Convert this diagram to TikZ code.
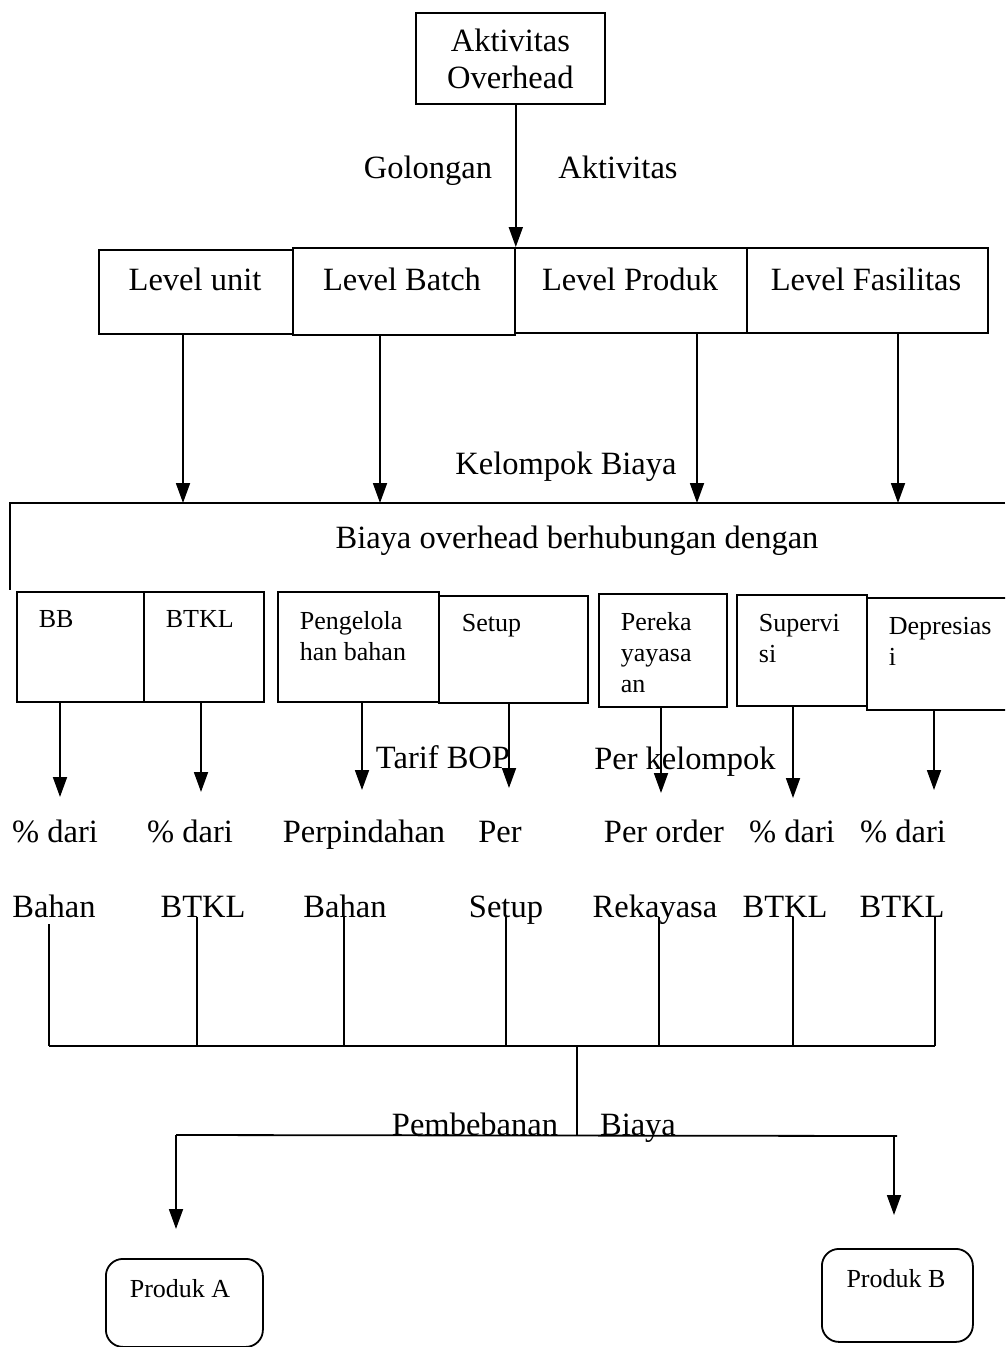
\documentclass[tikz,border=0pt]{standalone}
\usepackage{fontspec}
\setmainfont{Liberation Serif}
\usetikzlibrary{arrows.meta}
\begin{document}
\begin{tikzpicture}[x=1pt,y=-1pt,
  line width=1.8pt,
  box/.style={draw, line width=1.8pt, inner sep=0pt, anchor=north west},
  bigtxt/.style={font=\fontsize{32.5}{37}\selectfont, inner sep=0pt, anchor=base},
  smalltxt/.style={font=\fontsize{26}{31}\selectfont, inner sep=0pt, anchor=north west, align=left},
  prod/.style={draw, line width=1.8pt, rounded corners=17pt, inner sep=0pt, anchor=north west},
  arr/.style={-{Triangle[length=20pt,width=14pt]}},
]
\useasboundingbox (0,0) rectangle (1005,1347);
\clip (0,0) rectangle (1005,1347);
\fill[white] (0,0) rectangle (1005,1347);

% top box
\node[box, minimum width=189pt, minimum height=91pt, align=center,
      font=\fontsize{32.5}{37}\selectfont] (ovh) at (415,12) {Aktivitas\\Overhead};

% activity levels
\node[box, minimum width=194pt, minimum height=84pt] (lu) at (98,249) {};
\node[box, minimum width=222pt, minimum height=87pt] (lb) at (292,247) {};
\node[box, minimum width=232pt, minimum height=85pt] (lp) at (514,247) {};
\node[box, minimum width=241pt, minimum height=85pt] (lf) at (746,247) {};
\node[bigtxt] (lut) at (195,290) {Level unit};
\node[bigtxt] (lbt) at (402,290) {Level Batch};
\node[bigtxt] (lpt) at (630,290) {Level Produk};
\node[bigtxt] (lft) at (866,290) {Level Fasilitas};

\draw[arr] (ovh.south -| lb.north east) -- (lb.north east);
\node[bigtxt] (gol) at (428,178) {Golongan};
\node[bigtxt] (akt) at (618,178) {Aktivitas};

% cost pool frame
\coordinate (bigNE) at (1005,503);
\coordinate (bigNW) at (10,503);
\coordinate (bigSW) at (10,590);
\draw (bigNE) -- (bigNW) -- (bigSW);
\node[bigtxt] (bohd) at (577,548) {Biaya overhead berhubungan dengan};

\coordinate (k1) at (183,503);
\coordinate (k2) at (380,503);
\coordinate (k3) at (697,503);
\coordinate (k4) at (898,503);
\draw[arr] (k1 |- lu.south) -- (k1);
\draw[arr] (k2 |- lb.south) -- (k2);
\draw[arr] (k3 |- lp.south) -- (k3);
\draw[arr] (k4 |- lf.south) -- (k4);
\node[bigtxt] (kel) at (566,474) {Kelompok Biaya};

% cost items
\node[box, minimum width=127pt, minimum height=110pt] (bb) at (16,591) {};
\node[box, minimum width=120pt, minimum height=110pt] (btkl) at (143,591) {};
\node[box, minimum width=161pt, minimum height=110pt] (peng) at (277,591) {};
\node[box, minimum width=149pt, minimum height=107pt] (setup) at (438,595) {};
\node[box, minimum width=128pt, minimum height=113pt] (rek) at (598,593) {};
\node[box, minimum width=130pt, minimum height=111pt] (sup) at (736,594) {};
\node[box, minimum width=150pt, minimum height=112pt] (dep) at (866,597) {};

\node[smalltxt] (bbt) at (38,610) {BB};
\node[smalltxt] (btklt) at (165,610) {BTKL};
\node[smalltxt] (pengt) at (299,611) {Pengelola\\han bahan};
\node[smalltxt] (setupt) at (461,613) {Setup};
\node[smalltxt] (rekt) at (620,612) {Pereka\\yayasa\\an};
\node[smalltxt] (supt) at (758,613) {Supervi\\si};
\node[smalltxt] (dept) at (888,616) {Depresias\\i};

% rates
\coordinate (a1) at (60,797);
\coordinate (a2) at (201,792);
\coordinate (a3) at (362,790);
\coordinate (a4) at (509,788);
\coordinate (a5) at (661,793);
\coordinate (a6) at (793,798);
\coordinate (a7) at (934,790);
\draw[arr] (a1 |- bb.south) -- (a1);
\draw[arr] (a2 |- btkl.south) -- (a2);
\draw[arr] (a3 |- peng.south) -- (a3);
\draw[arr] (a4 |- setup.south) -- (a4);
\draw[arr] (a5 |- rek.south) -- (a5);
\draw[arr] (a6 |- sup.south) -- (a6);
\draw[arr] (a7 |- dep.south) -- (a7);

\node[bigtxt] (tarif) at (443,768) {Tarif BOP};
\node[bigtxt] (perkel) at (685,769) {Per kelompok};

\node[bigtxt] (ra1) at (55,842) {\% dari};
\node[bigtxt] (ra2) at (190,842) {\% dari};
\node[bigtxt] (ra3) at (364,842) {Perpindahan};
\node[bigtxt] (ra4) at (500,842) {Per};
\node[bigtxt] (ra5) at (664,842) {Per order};
\node[bigtxt] (ra6) at (792,842) {\% dari};
\node[bigtxt] (ra7) at (903,842) {\% dari};

\node[bigtxt] (rb1) at (54,917) {Bahan};
\node[bigtxt] (rb2) at (203,917) {BTKL};
\node[bigtxt] (rb3) at (345,917) {Bahan};
\node[bigtxt] (rb4) at (506,917) {Setup};
\node[bigtxt] (rb5) at (655,917) {Rekayasa};
\node[bigtxt] (rb6) at (785,917) {BTKL};
\node[bigtxt] (rb7) at (902,917) {BTKL};

% collecting bus
\coordinate (m1) at (49,1046);
\coordinate (m2) at (197,1046);
\coordinate (m3) at (344,1046);
\coordinate (m4) at (506,1046);
\coordinate (m5) at (659,1046);
\coordinate (m6) at (793,1046);
\coordinate (m7) at (935,1046);
\draw ([yshift=-7pt]m1 |- rb1.base) -- (m1);
\draw (m2 |- rb2.base) -- (m2);
\draw (m3 |- rb3.base) -- (m3);
\draw (m4 |- rb4.base) -- (m4);
\draw (m5 |- rb5.base) -- (m5);
\draw (m6 |- rb6.base) -- (m6);
\draw (m7 |- rb7.base) -- (m7);
\draw (m1) -- (m7);

% cost assignment
\coordinate (c1) at (577,1046);
\coordinate (c2) at (577,1135);
\coordinate (hl) at (176,1135);
\coordinate (hr) at (897,1136);
\coordinate (pl) at (176,1229);
\coordinate (pr) at (894,1215);
\draw (c1) -- (c2);
\draw (hl) -- (hr);
\draw[arr] (hl) -- (pl);
\draw[arr] (pr |- hr) -- (pr);
\node[bigtxt] (pbb) at (475,1135) {Pembebanan};
\node[bigtxt] (pby) at (638,1135) {Biaya};

% products
\node[prod, minimum width=157pt, minimum height=88pt] (pa) at (105,1258) {};
\node[prod, minimum width=151pt, minimum height=93pt] (pb) at (821,1248) {};
\node[font=\fontsize{26}{31}\selectfont, inner sep=0pt, anchor=base] (pat) at (180,1297) {Produk A};
\node[font=\fontsize{26}{31}\selectfont, inner sep=0pt, anchor=base] (pbt) at (896,1287) {Produk B};
\end{tikzpicture}
\end{document}
